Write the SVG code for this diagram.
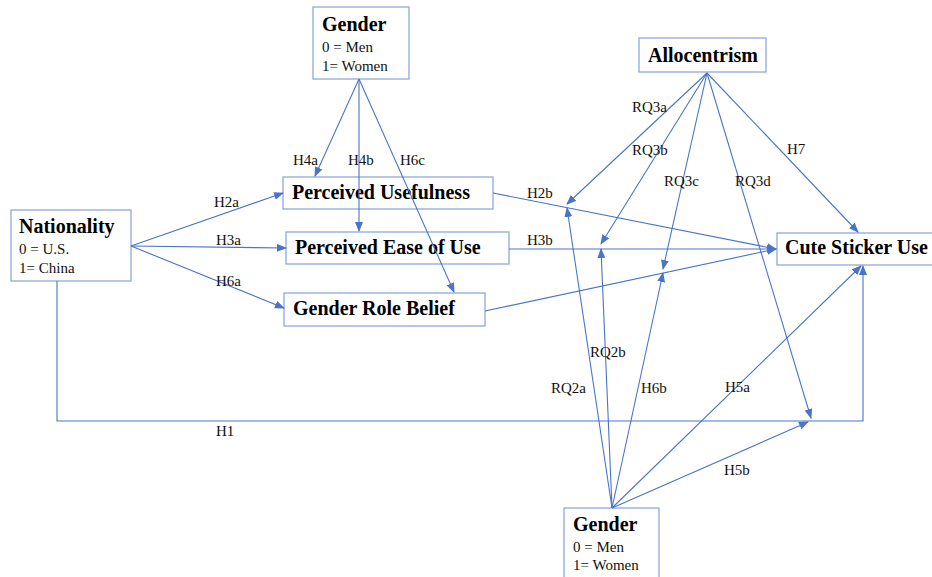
<svg xmlns="http://www.w3.org/2000/svg" width="932" height="577" viewBox="0 0 932 577">
<style>
.box{fill:#fff;stroke:#8eaadb;stroke-width:1.3}
.t{font-family:"Liberation Serif","Times New Roman",serif;font-weight:bold;font-size:20px;fill:#000}
.s{font-family:"Liberation Serif","Times New Roman",serif;font-size:15px;fill:#111}
.l{font-family:"Liberation Serif","Times New Roman",serif;font-size:15px;fill:#111}
.c{fill:none;stroke:#4a74c9;stroke-width:1.1}
</style>
<defs>
<marker id="ah" markerUnits="userSpaceOnUse" markerWidth="10" markerHeight="8" refX="9" refY="4" orient="auto">
<path d="M0,0 L10,4 L0,8 Z" fill="#4a74c9"/>
</marker>
</defs>
<rect width="932" height="577" fill="#fff"/>
<g id="gender-top">
<rect class="box" x="313" y="7" width="96" height="72"/>
<text class="t" x="322" y="31">Gender</text>
<text class="s" x="322" y="52">0 = Men</text>
<text class="s" x="322" y="71">1= Women</text>
</g>
<g id="allocentrism">
<rect class="box" x="639" y="38" width="127" height="34"/>
<text class="t" x="648" y="62">Allocentrism</text>
</g>
<g id="nationality">
<rect class="box" x="11" y="210" width="120" height="71"/>
<text class="t" x="19" y="233">Nationality</text>
<text class="s" x="19" y="254">0 = U.S.</text>
<text class="s" x="19" y="273">1= China</text>
</g>
<g id="perceived-usefulness">
<rect class="box" x="283" y="177" width="210" height="32"/>
<text class="t" x="292" y="199">Perceived Usefulness</text>
</g>
<g id="perceived-ease">
<rect class="box" x="286" y="232" width="223" height="32"/>
<text class="t" x="295" y="254">Perceived Ease of Use</text>
</g>
<g id="gender-role-belief">
<rect class="box" x="284" y="293" width="201" height="33"/>
<text class="t" x="293" y="315">Gender Role Belief</text>
</g>
<g id="cute-sticker-use">
<rect class="box" x="777" y="233" width="160" height="32"/>
<text class="t" x="785" y="254">Cute Sticker Use</text>
</g>
<g id="gender-bottom">
<rect class="box" x="564" y="508" width="95" height="75"/>
<text class="t" x="573" y="531">Gender</text>
<text class="s" x="573" y="552">0 = Men</text>
<text class="s" x="573" y="570">1= Women</text>
</g>
<g id="connectors">
<polyline class="c" points="57,281 57,421 863,421 863,266" marker-end="url(#ah)"/>
<line class="c" x1="131" y1="246" x2="283" y2="193" marker-end="url(#ah)"/>
<line class="c" x1="131" y1="246" x2="286" y2="248" marker-end="url(#ah)"/>
<line class="c" x1="131" y1="246" x2="284" y2="308" marker-end="url(#ah)"/>
<line class="c" x1="359" y1="79" x2="315" y2="176" marker-end="url(#ah)"/>
<line class="c" x1="359" y1="79" x2="359" y2="231" marker-end="url(#ah)"/>
<line class="c" x1="359" y1="79" x2="454" y2="292" marker-end="url(#ah)"/>
<line class="c" x1="493" y1="193" x2="776" y2="249" marker-end="url(#ah)"/>
<line class="c" x1="509" y1="249" x2="776" y2="249" marker-end="url(#ah)"/>
<line class="c" x1="485" y1="311" x2="776" y2="249" marker-end="url(#ah)"/>
<line class="c" x1="707" y1="73" x2="567" y2="204" marker-end="url(#ah)"/>
<line class="c" x1="707" y1="73" x2="601" y2="244" marker-end="url(#ah)"/>
<line class="c" x1="707" y1="73" x2="663" y2="269" marker-end="url(#ah)"/>
<line class="c" x1="707" y1="73" x2="811" y2="418" marker-end="url(#ah)"/>
<line class="c" x1="707" y1="73" x2="858" y2="232" marker-end="url(#ah)"/>
<line class="c" x1="612" y1="508" x2="567" y2="208" marker-end="url(#ah)"/>
<line class="c" x1="612" y1="508" x2="601" y2="249" marker-end="url(#ah)"/>
<line class="c" x1="612" y1="508" x2="663" y2="273" marker-end="url(#ah)"/>
<line class="c" x1="612" y1="508" x2="861" y2="266" marker-end="url(#ah)"/>
<line class="c" x1="612" y1="508" x2="808" y2="422" marker-end="url(#ah)"/>
<g id="labels">
<text class="l" x="293" y="165">H4a</text>
<text class="l" x="348" y="165">H4b</text>
<text class="l" x="400" y="165">H6c</text>
<text class="l" x="214" y="207">H2a</text>
<text class="l" x="216" y="245">H3a</text>
<text class="l" x="216" y="286">H6a</text>
<text class="l" x="527" y="198">H2b</text>
<text class="l" x="527" y="245">H3b</text>
<text class="l" x="632" y="112">RQ3a</text>
<text class="l" x="632" y="155">RQ3b</text>
<text class="l" x="664" y="186">RQ3c</text>
<text class="l" x="735" y="186">RQ3d</text>
<text class="l" x="787" y="154">H7</text>
<text class="l" x="590" y="357">RQ2b</text>
<text class="l" x="551" y="393">RQ2a</text>
<text class="l" x="641" y="393">H6b</text>
<text class="l" x="725" y="392">H5a</text>
<text class="l" x="724" y="475">H5b</text>
<text class="l" x="216" y="436">H1</text>
</g>
</g>
</svg>
